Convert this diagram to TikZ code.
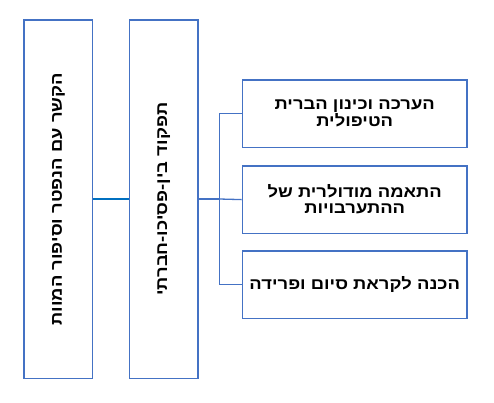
\documentclass[tikz,border=0pt]{standalone}
\usepackage{fontspec}
\newfontfamily\hebfont[Script=Hebrew,FakeStretch=1.15]{Liberation Sans}
\TeXXeTstate=1
\definecolor{boxblue}{HTML}{4472C4}
\definecolor{linkblue}{HTML}{0070C0}
\begin{document}
\begin{tikzpicture}[x=1pt,y=-1pt,
  box/.style={draw=boxblue, line width=1.5pt, inner sep=0pt, anchor=north west},
  lab/.style={font=\hebfont\bfseries\fontsize{16}{16}\selectfont, align=center, inner sep=0pt},
  link/.style={draw=boxblue, line width=1.3pt}]
\useasboundingbox (0,0) rectangle (494,402);
\node[box, minimum width=68.6pt, minimum height=358.4pt] (L) at (23.3,19.3) {};
\node[box, minimum width=68.6pt, minimum height=358.4pt] (M) at (128.7,19.3) {};
\node[box, minimum width=224.6pt, minimum height=67.7pt] (R1) at (241.7,79) {};
\node[box, minimum width=224.6pt, minimum height=67.7pt] (R2) at (241.7,165) {};
\node[box, minimum width=224.6pt, minimum height=67.7pt] (R3) at (241.7,250) {};
\node[lab, rotate=90] (tL) at (L.center) {\beginR הקשר עם הנפטר וסיפור המוות\endR};
\node[lab, rotate=90] (tM) at (M.center) {\beginR תפקוד בין-פסיכו-חברתי\endR};
\node[lab] (t1) at (R1.center) {\beginR הערכה וכינון הברית\endR\\\beginR הטיפולית\endR};
\node[lab] (t2) at (R2.center) {\beginR התאמה מודולרית של\endR\\\beginR ההתערבויות\endR};
\node[lab] (t3) at (R3.center) {\beginR הכנה לקראת סיום ופרידה\endR};
\coordinate (J) at (219.3,199);
\draw[draw=linkblue, line width=1.5pt] (L.east |- J) -- (M.west |- J);
\draw[link] (M.east |- J) -- (J);
\draw[link] (R1.west) -| (J) |- (R3.west);
\draw[link] (J) -- (R2.west);
\end{tikzpicture}
\end{document}
